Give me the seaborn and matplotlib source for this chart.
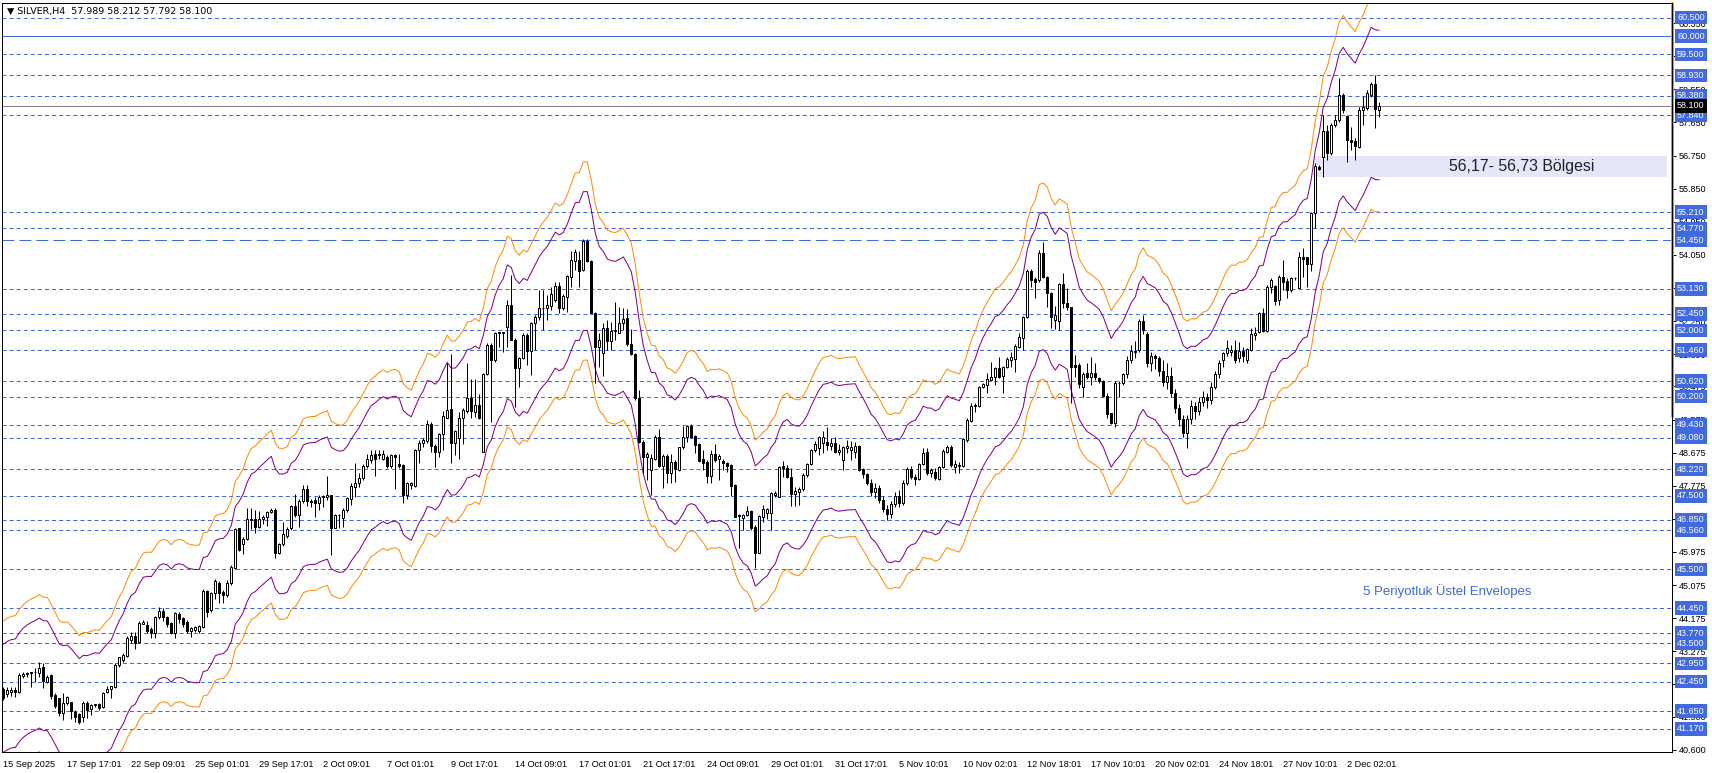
import matplotlib
matplotlib.use('Agg')
import matplotlib.pyplot as plt
import numpy as np
import pandas as pd
import seaborn as sns

# Price data (SILVER, H4), one entry per bar
opens = [
    42.24, 42.11, 42.18, 42.21, 42.18, 42.60, 42.66, 42.68, 42.70, 42.68,
    42.84, 42.45, 42.63, 42.09, 42.00, 41.59, 41.88, 41.90, 41.63, 41.56,
    41.50, 41.88, 41.70, 41.81, 41.83, 41.75, 42.18, 42.24, 42.31, 42.90,
    43.04, 43.15, 43.58, 43.69, 43.54, 44.03, 43.99, 43.87, 43.78, 44.20,
    44.37, 44.22, 44.05, 43.78, 44.29, 44.17, 44.07, 43.84, 43.85, 43.84,
    43.94, 44.91, 44.40, 44.85, 45.14, 44.90, 44.81, 45.12, 45.55, 46.62,
    46.19, 46.32, 46.85, 46.87, 46.66, 46.87, 46.92, 47.05, 47.12, 45.96,
    46.19, 46.42, 46.62, 47.22, 46.98, 47.36, 47.68, 47.37, 47.40, 47.30,
    47.46, 47.46, 47.52, 46.62, 46.97, 46.89, 47.11, 47.41, 47.75, 47.84,
    47.98, 48.31, 48.47, 48.63, 48.63, 48.49, 48.55, 48.31, 48.61, 48.36,
    48.33, 47.52, 47.80, 47.77, 48.75, 48.95, 49.00, 49.45, 48.86, 48.68,
    49.18, 49.63, 49.85, 48.93, 49.06, 49.61, 49.81, 50.15, 49.79, 49.97,
    48.70, 50.81, 51.60, 51.18, 51.95, 51.93, 52.10, 52.69, 51.75, 50.97,
    51.24, 51.87, 51.45, 52.19, 52.37, 52.60, 52.60, 52.66, 52.83, 53.20,
    52.60, 52.91, 53.44, 53.89, 53.91, 53.64, 54.44, 53.89, 52.48, 51.54,
    51.38, 52.05, 51.72, 51.97, 51.94, 52.21, 52.33, 51.63, 51.36, 50.15,
    48.97, 48.56, 48.20, 48.49, 49.11, 48.31, 48.58, 48.11, 48.43, 48.20,
    48.82, 49.09, 49.40, 49.13, 48.91, 48.49, 48.43, 48.04, 48.64, 48.49,
    48.46, 48.40, 48.34, 47.80, 46.98, 46.89, 46.98, 47.10, 46.65, 45.96,
    46.93, 47.04, 47.04, 47.52, 47.48, 48.31, 48.25, 48.02, 47.55, 47.61,
    47.68, 48.07, 48.37, 48.75, 48.79, 48.95, 48.97, 48.86, 48.95, 48.70,
    48.47, 48.79, 48.75, 48.68, 48.86, 48.22, 48.09, 47.85, 47.60, 47.72,
    47.40, 47.15, 47.00, 47.28, 47.50, 47.30, 47.85, 48.22, 48.02, 47.95,
    48.37, 48.70, 48.11, 48.16, 47.95, 48.29, 48.70, 48.84, 48.29, 48.34,
    48.31, 49.02, 49.54, 49.94, 49.94, 50.45, 50.51, 50.65, 50.74, 50.97,
    50.76, 50.99, 51.19, 51.21, 51.56, 51.78, 52.35, 53.62, 53.39, 53.37,
    54.09, 53.46, 53.02, 52.28, 52.24, 53.26, 52.75, 52.63, 51.06, 51.06,
    50.47, 50.83, 50.72, 50.83, 50.70, 50.63, 50.21, 49.74, 49.49, 50.56,
    50.56, 50.81, 51.20, 51.45, 51.46, 52.24, 51.90, 51.10, 51.30, 51.25,
    50.90, 50.60, 50.75, 50.30, 49.90, 49.60, 49.20, 49.60, 49.95, 49.80,
    50.05, 50.20, 50.10, 50.45, 50.80, 51.19, 51.37, 51.40, 51.47, 51.25,
    51.45, 51.19, 51.47, 51.88, 51.96, 52.46, 51.99, 53.19, 53.20, 52.82,
    53.46, 53.35, 53.10, 53.41, 53.14, 53.98, 53.98, 53.80, 55.20, 56.45,
    56.72, 57.43, 56.81, 57.58, 57.72, 58.40, 57.83, 57.17, 57.14, 56.97,
    57.99, 58.03, 58.40, 58.70, 57.989,
]
closes = [
    42.00, 42.21, 42.22, 42.17, 42.63, 42.66, 42.68, 42.70, 42.72, 42.81,
    42.48, 42.59, 42.06, 41.79, 41.59, 41.86, 42.02, 41.66, 41.50, 41.36,
    41.88, 41.68, 41.82, 41.84, 41.73, 42.15, 42.26, 42.32, 42.90, 43.11,
    43.17, 43.63, 43.69, 43.51, 44.05, 44.08, 43.84, 43.76, 44.20, 44.37,
    44.20, 44.02, 43.76, 44.31, 44.16, 44.03, 43.84, 43.92, 43.93, 43.96,
    44.91, 44.35, 44.85, 45.19, 44.85, 44.81, 45.12, 45.58, 46.60, 46.03,
    46.34, 46.87, 46.88, 46.65, 46.87, 46.93, 47.05, 47.12, 45.96, 46.19,
    46.46, 46.61, 47.23, 46.98, 47.36, 47.68, 47.36, 47.33, 47.30, 47.48,
    47.49, 47.52, 46.62, 46.99, 46.99, 47.11, 47.43, 47.77, 47.86, 47.98,
    48.31, 48.49, 48.61, 48.49, 48.62, 48.63, 48.31, 48.61, 48.55, 48.31,
    47.52, 47.84, 47.84, 48.75, 48.95, 49.02, 49.45, 48.86, 48.68, 49.18,
    49.67, 49.83, 48.93, 49.27, 49.61, 49.83, 50.15, 49.81, 49.97, 49.61,
    50.81, 51.60, 51.18, 51.94, 51.93, 51.94, 52.69, 51.75, 50.97, 51.24,
    51.87, 51.45, 52.19, 52.37, 52.60, 52.62, 52.69, 53.00, 53.20, 52.60,
    52.93, 53.47, 53.91, 54.14, 53.62, 54.44, 53.89, 52.48, 51.54, 51.75,
    52.05, 51.72, 51.99, 52.01, 52.21, 52.30, 51.63, 51.36, 50.15, 48.97,
    48.56, 48.65, 48.52, 49.11, 48.31, 48.58, 48.11, 48.43, 48.22, 48.82,
    49.09, 49.40, 49.11, 48.88, 48.46, 48.40, 48.04, 48.64, 48.47, 48.58,
    48.38, 48.31, 47.77, 46.93, 46.95, 46.98, 47.10, 46.62, 45.96, 46.95,
    47.13, 47.13, 47.57, 47.58, 48.29, 48.25, 48.02, 47.55, 47.64, 47.70,
    48.07, 48.37, 48.75, 48.91, 49.09, 49.11, 48.88, 48.95, 48.68, 48.75,
    48.84, 48.86, 48.84, 48.86, 48.20, 48.09, 47.85, 47.60, 47.72, 47.40,
    47.15, 47.00, 47.28, 47.50, 47.30, 47.85, 48.22, 48.02, 47.95, 48.37,
    48.66, 48.11, 48.19, 47.98, 48.29, 48.73, 48.84, 48.34, 48.37, 48.31,
    49.04, 49.56, 49.94, 49.97, 50.45, 50.54, 50.67, 50.74, 50.97, 50.74,
    51.01, 51.21, 51.28, 51.57, 51.81, 52.35, 53.62, 53.37, 53.30, 54.09,
    53.44, 53.01, 52.35, 52.42, 53.26, 52.73, 52.63, 50.99, 51.01, 50.54,
    50.81, 50.72, 50.83, 50.72, 50.61, 50.21, 49.73, 49.47, 50.56, 50.58,
    50.81, 51.20, 51.45, 51.40, 52.24, 52.00, 51.10, 51.30, 51.25, 50.90,
    50.60, 50.75, 50.30, 49.90, 49.60, 49.20, 49.60, 49.95, 49.80, 50.05,
    50.20, 50.10, 50.45, 50.80, 51.10, 51.37, 51.51, 51.47, 51.19, 51.45,
    51.30, 51.48, 51.90, 51.92, 52.46, 51.99, 53.19, 53.37, 52.81, 53.46,
    53.32, 53.10, 53.41, 53.43, 53.98, 53.95, 53.80, 55.20, 56.47, 56.38,
    57.43, 56.81, 57.58, 57.72, 58.40, 57.99, 57.17, 57.13, 57.01, 57.99,
    58.08, 58.44, 58.70, 58.01, 58.100,
]
highs = [
    42.31, 42.31, 42.31, 42.31, 42.69, 42.72, 42.72, 42.72, 42.81, 42.98,
    42.97, 42.63, 42.67, 42.13, 42.00, 42.13, 42.06, 41.90, 41.68, 41.59,
    41.92, 41.92, 41.84, 41.84, 41.88, 42.18, 42.33, 42.34, 42.95, 43.13,
    43.22, 43.69, 43.80, 43.80, 44.10, 44.12, 44.10, 43.94, 44.23, 44.47,
    44.44, 44.23, 44.08, 44.33, 44.33, 44.22, 44.13, 43.94, 43.97, 43.99,
    44.96, 44.94, 44.90, 45.23, 45.19, 44.94, 45.21, 45.61, 46.64, 46.64,
    46.39, 47.16, 47.16, 47.12, 47.10, 46.98, 47.10, 47.16, 47.16, 46.23,
    46.78, 46.66, 47.25, 47.55, 47.41, 47.79, 47.79, 47.41, 47.48, 47.52,
    47.52, 48.04, 47.52, 47.02, 47.02, 47.16, 47.48, 47.84, 48.39, 48.11,
    48.36, 48.65, 48.75, 48.75, 48.76, 48.75, 48.61, 48.65, 48.65, 48.65,
    48.36, 47.89, 47.89, 48.77, 49.02, 49.07, 49.56, 49.52, 48.91, 49.22,
    49.82, 51.12, 51.36, 49.29, 49.79, 49.88, 51.12, 50.67, 50.69, 50.27,
    50.83, 51.65, 51.65, 51.96, 51.96, 51.96, 52.82, 53.50, 51.78, 51.27,
    51.92, 51.92, 52.23, 52.42, 53.10, 53.10, 52.96, 53.19, 53.30, 53.30,
    53.00, 53.50, 54.16, 54.20, 54.16, 54.47, 54.47, 53.91, 52.51, 51.94,
    52.19, 52.28, 52.23, 52.78, 52.64, 52.62, 52.57, 52.03, 51.38, 50.38,
    49.02, 48.70, 48.65, 49.15, 49.33, 48.65, 48.65, 48.65, 48.47, 48.84,
    49.40, 49.43, 49.45, 49.15, 48.94, 48.74, 48.47, 48.74, 48.91, 48.65,
    48.49, 48.43, 48.37, 47.82, 47.01, 47.01, 47.22, 47.12, 46.71, 46.98,
    47.25, 47.16, 47.61, 47.64, 48.31, 48.46, 48.34, 48.25, 47.75, 47.75,
    48.11, 48.40, 48.77, 49.00, 49.13, 49.25, 49.36, 49.07, 49.11, 48.91,
    48.86, 49.02, 49.00, 48.97, 48.88, 48.25, 48.12, 47.95, 47.85, 47.80,
    47.50, 47.25, 47.35, 47.60, 47.65, 47.92, 48.28, 48.30, 48.10, 48.40,
    48.79, 48.79, 48.25, 48.25, 48.31, 48.77, 48.88, 48.88, 48.47, 48.43,
    49.06, 49.61, 50.02, 50.03, 50.49, 50.58, 50.83, 51.15, 51.01, 51.27,
    51.03, 51.28, 51.42, 51.63, 51.92, 52.39, 53.66, 53.66, 53.46, 54.18,
    54.41, 53.48, 53.05, 52.66, 53.28, 53.57, 53.14, 52.64, 51.33, 51.10,
    50.88, 51.10, 51.28, 51.10, 50.74, 50.65, 50.29, 49.76, 50.61, 50.63,
    50.85, 51.30, 51.60, 51.70, 52.30, 52.42, 51.95, 51.40, 51.35, 51.30,
    51.20, 51.10, 51.00, 50.40, 50.00, 49.70, 49.70, 50.10, 50.05, 50.20,
    50.35, 50.30, 50.60, 50.90, 51.20, 51.42, 51.74, 51.60, 51.74, 51.69,
    51.56, 51.51, 52.05, 52.10, 52.51, 52.60, 53.23, 53.41, 53.23, 53.50,
    53.91, 53.41, 53.46, 53.44, 54.14, 54.23, 54.00, 55.22, 56.54, 56.49,
    57.85, 57.58, 57.63, 57.85, 58.85, 58.44, 57.85, 57.54, 57.22, 58.08,
    58.37, 58.53, 58.76, 58.94, 58.212,
]
lows = [
    41.95, 42.04, 42.06, 42.02, 42.15, 42.54, 42.59, 42.31, 42.45, 42.58,
    42.27, 42.40, 41.97, 41.73, 41.52, 41.41, 41.82, 41.43, 41.36, 41.30,
    41.36, 41.45, 41.54, 41.75, 41.68, 41.73, 42.13, 42.00, 42.27, 42.86,
    42.99, 43.11, 43.51, 43.33, 43.51, 44.02, 43.76, 43.63, 43.63, 44.14,
    44.11, 43.94, 43.74, 43.65, 44.05, 43.94, 43.76, 43.66, 43.81, 43.76,
    43.90, 44.22, 44.35, 44.71, 44.60, 44.58, 44.76, 45.08, 45.51, 46.01,
    45.91, 46.30, 46.60, 46.48, 46.62, 46.74, 46.68, 47.03, 45.80, 45.92,
    46.14, 46.35, 46.57, 46.93, 46.66, 47.31, 47.22, 47.21, 46.93, 47.12,
    47.21, 47.39, 45.89, 46.62, 46.62, 46.66, 47.07, 47.25, 47.48, 47.75,
    47.93, 48.25, 48.38, 48.04, 48.49, 48.47, 48.27, 48.27, 47.70, 48.27,
    47.31, 47.41, 47.70, 47.75, 48.39, 48.84, 48.93, 48.70, 48.28, 48.55,
    48.75, 49.61, 48.40, 48.61, 48.49, 48.91, 49.74, 49.63, 49.65, 49.58,
    48.70, 50.79, 49.52, 51.15, 51.54, 51.42, 51.56, 51.74, 49.91, 50.45,
    51.21, 51.06, 50.78, 51.46, 52.28, 52.01, 52.28, 52.55, 52.78, 52.48,
    52.55, 52.50, 53.19, 53.64, 53.19, 53.60, 53.87, 52.46, 50.58, 51.01,
    50.76, 51.47, 51.47, 51.74, 51.92, 52.01, 51.58, 51.33, 50.11, 48.95,
    48.11, 47.93, 47.52, 48.47, 48.29, 47.71, 47.86, 47.84, 47.89, 48.18,
    48.77, 48.97, 49.06, 48.66, 48.43, 48.20, 47.84, 47.84, 48.43, 47.93,
    48.19, 48.16, 47.50, 46.92, 46.07, 46.57, 46.95, 46.57, 45.53, 45.94,
    46.80, 46.88, 46.57, 47.48, 47.46, 48.02, 47.98, 47.23, 47.23, 47.25,
    47.64, 48.02, 48.34, 48.70, 48.61, 48.66, 48.75, 48.75, 48.66, 48.61,
    48.20, 48.66, 48.47, 48.52, 48.18, 47.98, 47.80, 47.50, 47.45, 47.30,
    47.05, 46.85, 46.90, 47.20, 47.20, 47.25, 47.80, 47.95, 47.80, 47.93,
    48.34, 48.07, 48.02, 47.93, 47.93, 48.25, 48.66, 48.29, 48.11, 48.11,
    48.29, 48.97, 49.52, 49.79, 49.92, 50.42, 50.30, 50.63, 50.51, 50.70,
    50.29, 50.97, 51.01, 50.87, 51.51, 51.47, 52.33, 53.19, 52.87, 53.32,
    53.41, 52.64, 52.05, 52.03, 52.01, 52.60, 52.55, 50.03, 50.72, 50.42,
    50.20, 50.67, 50.51, 50.65, 50.58, 50.20, 49.61, 49.45, 49.36, 50.20,
    50.51, 50.70, 51.10, 51.25, 51.40, 51.90, 51.00, 50.90, 50.95, 50.75,
    50.50, 50.40, 50.20, 49.75, 49.40, 49.10, 48.80, 49.45, 49.60, 49.70,
    49.95, 49.90, 50.00, 50.40, 50.70, 51.00, 51.30, 51.30, 51.10, 51.15,
    51.15, 51.10, 51.45, 51.74, 51.92, 51.96, 51.96, 53.01, 52.69, 52.69,
    53.10, 52.87, 53.05, 53.38, 53.14, 53.46, 53.19, 53.62, 54.77, 56.36,
    56.18, 56.63, 56.77, 57.54, 57.67, 57.90, 56.58, 56.90, 56.63, 56.95,
    57.58, 57.99, 58.35, 57.49, 57.792,
]

# time axis labels (every 16 bars)
date_labels = ['15 Sep 2025', '17 Sep 17:01', '22 Sep 09:01', '25 Sep 01:01',
               '29 Sep 17:01', '2 Oct 09:01', '7 Oct 01:01', '9 Oct 17:01',
               '14 Oct 09:01', '17 Oct 01:01', '21 Oct 17:01', '24 Oct 09:01',
               '29 Oct 01:01', '31 Oct 17:01', '5 Nov 10:01', '10 Nov 02:01',
               '12 Nov 18:01', '17 Nov 10:01', '20 Nov 02:01', '24 Nov 18:01',
               '27 Nov 10:01', '2 Dec 02:01']
label_step = 16

# price scale ticks
price_ticks = [60.350, 59.450, 58.550, 57.650, 56.750, 55.850, 54.950, 54.050,
               53.150, 52.250, 51.350, 50.475, 49.575, 48.675, 47.775, 46.875,
               45.975, 45.075, 44.175, 43.275, 42.375, 41.500, 40.600]

# horizontal support / resistance levels
levels = [60.500, 60.000, 59.500, 58.930, 58.380, 57.840, 55.210, 54.770, 54.450,
          53.130, 52.450, 52.000, 51.460, 50.620, 50.200, 49.430, 49.080, 48.220,
          47.500, 46.850, 46.560, 45.500, 44.450, 43.770, 43.500, 42.950, 42.450,
          41.650, 41.170]
solid_level = 60.000
long_dash_level = 54.450

last_price = 58.100
zone_low, zone_high = 56.17, 56.73
zone_start = 327.4
env_period = 5
env_dev_inner = 3.5   # percent
env_dev_outer = 5.0

# ---- build frame
df = pd.DataFrame({'open': opens, 'high': highs, 'low': lows, 'close': closes})
df['bar'] = np.arange(len(df))
ema = df['close'].ewm(span=env_period, adjust=False).mean()
env = pd.DataFrame({
    'bar': np.tile(df['bar'], 4),
    'value': np.concatenate([ema * (1 + env_dev_outer / 100), ema * (1 + env_dev_inner / 100),
                             ema * (1 - env_dev_inner / 100), ema * (1 - env_dev_outer / 100)]),
    'band': np.repeat(['outer_up', 'inner_up', 'inner_dn', 'outer_dn'], len(df)),
})

sns.set_theme(style='white')
plt.rcParams['font.family'] = ['Liberation Sans', 'DejaVu Sans']
plt.rcParams['lines.scale_dashes'] = False

BLUE = '#4169E1'
W, H = 1712, 773
fig = plt.figure(figsize=(W / 100, H / 100), dpi=100)
ax = fig.add_axes([2 / W, 21 / H, 1670 / W, 749 / H])
px = 0.72  # one pixel in points

ax.set_xlim(-0.33, 417.2)
ax.set_ylim(40.538, 60.897)

# levels
for lv in levels:
    if lv == solid_level:
        ls = '-'
    elif lv == long_dash_level:
        ls = (0, (8.6, 3.6))
    else:
        ls = (0, (2.9, 2.2))
    ax.axhline(lv, color=BLUE, lw=px, ls=ls, zorder=1)
ax.axhline(last_price, color='#808080', lw=px, zorder=1)

# zone
ax.fill_between([zone_start, 415.9], zone_low, zone_high, color='#E6E6FA', lw=0, zorder=0.5)

# envelopes
sns.lineplot(data=env, x='bar', y='value', hue='band', ax=ax, legend=False,
             palette={'outer_up': '#FF8C00', 'inner_up': '#800080',
                      'inner_dn': '#800080', 'outer_dn': '#FF8C00'},
             lw=px, zorder=2)

# candles
up = df['close'] >= df['open']
body_lo = df[['open', 'close']].min(axis=1)
body_h = (df['close'] - df['open']).abs().clip(lower=0.02)
ax.vlines(df['bar'], df['low'], df['high'], color='black', lw=px, zorder=3)
ax.bar(df['bar'][up], body_h[up], bottom=body_lo[up], width=0.55,
       color='white', edgecolor='black', linewidth=px, zorder=4)
ax.bar(df['bar'][~up], body_h[~up], bottom=body_lo[~up], width=0.55,
       color='black', edgecolor='black', linewidth=px, zorder=4)

# axes styling
for s in ax.spines.values():
    s.set_color('black')
    s.set_linewidth(px)
ax.grid(False)
ax.set_xlabel('')
ax.set_ylabel('')
ax.set_xticks(np.arange(len(date_labels)) * label_step)
ax.set_xticklabels(date_labels, ha='left', fontsize=6.6)
ax.tick_params(axis='x', direction='out', length=4, width=px, pad=2, colors='black')
ax.yaxis.tick_right()
ax.set_yticks(price_ticks)
ax.set_yticklabels(['%.3f' % p for p in price_ticks], fontsize=6.5)
ax.tick_params(axis='y', direction='out', length=3, width=px, pad=2, colors='black')

# orange marker on the price scale
ax.plot([1.0, 1.0], [60.897, 49.67], transform=ax.get_yaxis_transform(),
        color='#FF8C00', lw=2.2, clip_on=False, zorder=2.4)

# level labels on the price scale
ytr = ax.get_yaxis_transform()
for lv in levels:
    ax.text(1.0 + 5 / 1670, lv, '%.3f' % lv, transform=ytr, fontsize=6.5, color='white',
            ha='left', va='center', clip_on=False, zorder=10,
            bbox=dict(boxstyle='square,pad=0.25', fc=BLUE, ec='none'))
ax.text(1.0 + 5 / 1670, last_price, '%.3f' % last_price, transform=ytr, fontsize=6.5,
        color='white', ha='left', va='center', clip_on=False, zorder=11,
        bbox=dict(boxstyle='square,pad=0.25', fc='black', ec='none'))

# annotations
ax.text(5 / 1670, 1 - 8 / 749, '\u25bc SILVER,H4  57.989 58.212 57.792 58.100',
        transform=ax.transAxes, fontsize=6.8, color='black', ha='left', va='center',
        family=['DejaVu Sans'])
ax.text(397.9, (zone_low + zone_high) / 2, '56,17- 56,73 Bölgesi', fontsize=11.4,
        color='#222222', ha='right', va='center', zorder=5)
ax.text(340, 44.91, '5 Periyotluk Üstel Envelopes', fontsize=9.5, color=BLUE,
        ha='left', va='center', zorder=5)

fig.savefig('out.png', dpi=100)
